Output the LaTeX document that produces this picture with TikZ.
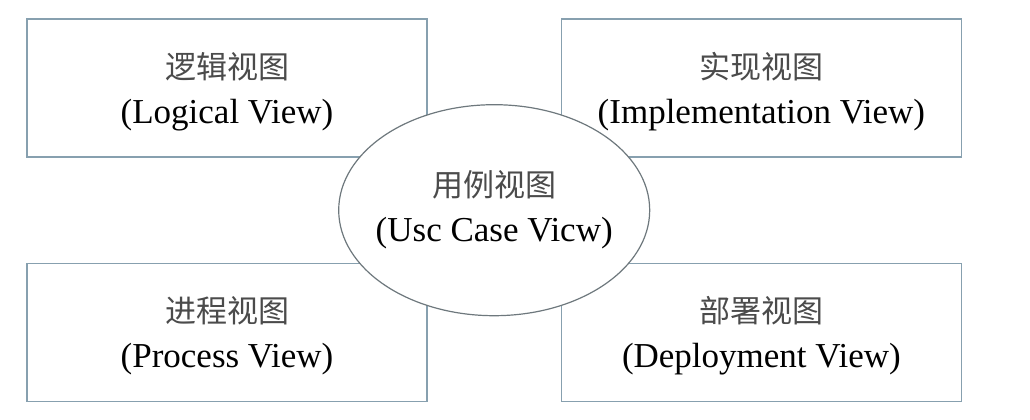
\documentclass[tikz,border=0pt]{standalone}
\usepackage{fontspec}
\usepackage{xcolor}
\usepackage{tikz}
\usetikzlibrary{positioning, shapes.geometric, calc}
\setmainfont{Liberation Serif}
\newfontfamily\cjk{Noto Sans CJK SC}
\definecolor{boxline}{RGB}{135,160,175}
\definecolor{ovalline}{RGB}{110,120,125}
\definecolor{zhgray}{RGB}{75,75,75}
\newcommand{\zh}[1]{{\cjk\fontsize{31}{45}\selectfont\color{zhgray}#1}}

\begin{document}
\begin{tikzpicture}[x=1pt, y=-1pt, node distance=105pt and 133pt,
    view/.style={draw=boxline, line width=1.4pt, fill=white, minimum width=400pt, minimum height=138pt, inner sep=0pt, text depth=0pt, align=center, font=\fontsize{35}{45}\selectfont},
    usecase/.style={ellipse, draw=ovalline, line width=1.2pt, fill=white, minimum width=311pt, minimum height=211pt, inner xsep=-10pt, inner ysep=0pt, align=center, font=\fontsize{35}{45}\selectfont}]
        \useasboundingbox (0,0) rectangle (1030,420);
        \node[view] at (227,88) (logical) {\zh{逻辑视图}\\(Logical View)};
        \node[view, right=of logical] (impl) {\zh{实现视图}\\(Implementation View)};
        \node[view, below=of logical] (process) {\zh{进程视图}\\(Process View)};
        \node[view, below=of impl] (deploy) {\zh{部署视图}\\(Deployment View)};

        \node[usecase] at ($(logical)!0.5!(deploy)$) (usecase) {\zh{用例视图}\\(Usc Case Vicw)};
    \end{tikzpicture}
\end{document}
